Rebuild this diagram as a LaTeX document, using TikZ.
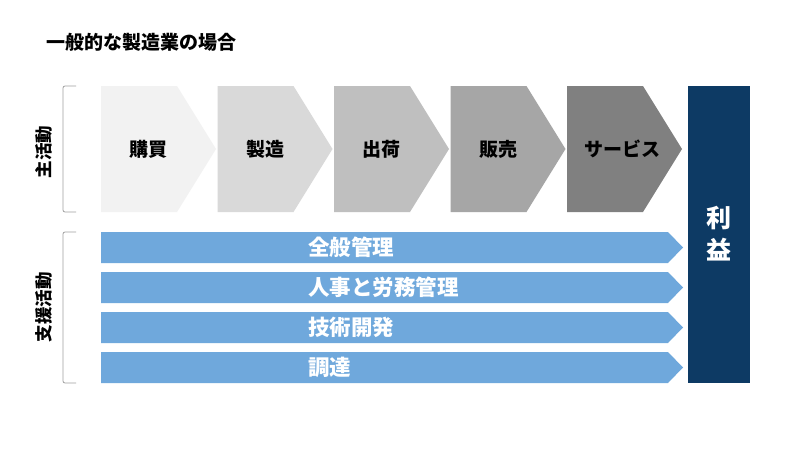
\documentclass[tikz,border=0pt]{standalone}
\usepackage{fontspec}
\setmainfont{Noto Sans CJK JP}
\begin{document}
\begin{tikzpicture}[x=1pt,y=-1pt,
  lbl/.style={font=\bfseries\fontsize{19}{22}\selectfont, text=black, inner sep=0pt},
  sup/.style={font=\bfseries\fontsize{21.5}{24}\selectfont, text=white, inner sep=0pt, anchor=west},
  side/.style={font=\bfseries\fontsize{17.5}{20}\selectfont, text=black, inner sep=0pt, rotate=90},
  brk/.style={draw=gray!75, line width=0.8pt, rounded corners=2pt},
]
\definecolor{c1}{HTML}{F2F2F2}
\definecolor{c2}{HTML}{D9D9D9}
\definecolor{c3}{HTML}{BFBFBF}
\definecolor{c4}{HTML}{A6A6A6}
\definecolor{c5}{HTML}{808080}
\definecolor{navy}{HTML}{0D3A64}
\definecolor{sblue}{HTML}{6FA8DC}
\useasboundingbox[fill=white] (0,0) rectangle (800,450);

% title
\node[lbl, anchor=west] (title) at (46,42) {一般的な製造業の場合};

% primary activities (pentagon arrows)
\foreach \i/\c/\t/\dx in {0/c1/購買/47.5, 1/c2/製造/47.5, 2/c3/出荷/47.5, 3/c4/販売/47.5, 4/c5/サービス/55}{
  \pgfmathsetmacro{\xa}{101+116.5*\i}
  \fill[\c] (\xa,86) -- ++(76,0) -- ++(39,63) -- ++(-39,63) -- ++(-76,0) -- cycle;
  \node[lbl] (p\i) at (\xa+\dx,149) {\t};
}

% profit box
\fill[navy] (688,86) rectangle (750,383);
\node[font=\bfseries\fontsize{25}{32}\selectfont, text=white, align=center, inner sep=0pt] (profit) at (719,234) {利\\益};

% support activities
\foreach \i/\t in {0/全般管理, 1/人事と労務管理, 2/技術開発, 3/調達}{
  \pgfmathsetmacro{\ya}{232+40*\i}
  \fill[sblue] (101,\ya) -- (668,\ya) -- (683,\ya+15.5) -- (668,\ya+31) -- (101,\ya+31) -- cycle;
  \node[sup] (s\i) at (308,\ya+15.5) {\t};
}

% brackets
\coordinate (b1a) at (76,86);
\coordinate (b1b) at (76,212);
\draw[brk] (b1a) -- (63,86) -- (63,212) -- (b1b);
\coordinate (b2a) at (76,232);
\coordinate (b2b) at (76,383);
\draw[brk] (b2a) -- (63,232) -- (63,383) -- (b2b);

\node[side] (main) at (44,152) {主活動};
\node[side] (support) at (44,307) {支援活動};
\end{tikzpicture}
\end{document}
